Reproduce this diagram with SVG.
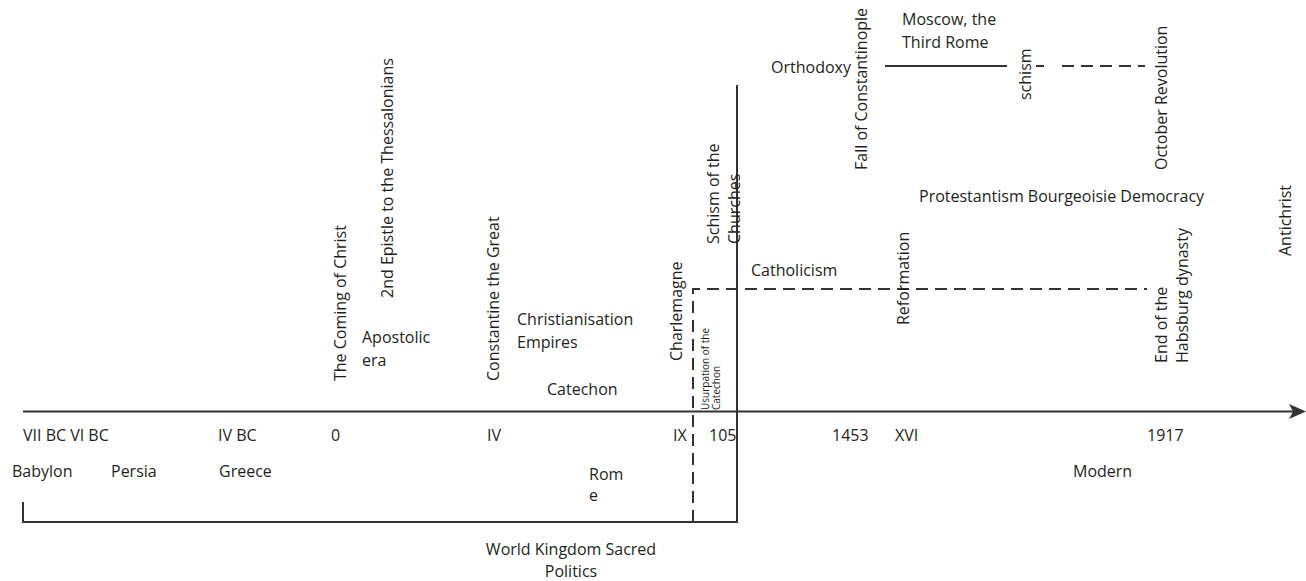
<svg xmlns="http://www.w3.org/2000/svg" width="1306" height="581" viewBox="0 0 1306 581">
  <style>
    text { font-family: "Open Sans", "Noto Sans", sans-serif; font-size: 16px; fill: #231f20; }
    .small { font-size: 10px; }
    .line { stroke: #333333; stroke-width: 2; fill: none; }
    .dash { stroke: #333333; stroke-width: 2; fill: none; stroke-dasharray: 12 7; }
  </style>
  <defs>
    <clipPath id="clip-left-of-schism">
      <rect x="0" y="400" width="737" height="60"/>
    </clipPath>
  </defs>

  <rect width="1306" height="581" fill="#ffffff"/>

  <!-- Connectors: time axis, kingdom bracket, schism line, branch lines -->
  <g id="connectors">
    <line class="line" x1="23" y1="411.5" x2="1296" y2="411.5"/>
    <path d="M1289,404 L1306,411.5 L1289,419 L1293,411.5 Z" fill="#333333"/>
    <polyline class="line" points="23,502 23,522 737,522 737,85"/>
    <polyline class="dash" points="693,522 693,289 1147,289"/>
    <line class="line" x1="885" y1="66" x2="1007" y2="66"/>
    <line class="line" x1="1036" y1="66" x2="1044" y2="66"/>
    <line class="dash" x1="1062" y1="66" x2="1145" y2="66"/>
  </g>

  <!-- Axis dates -->
  <g id="dates">
    <text x="23" y="441">VII BC VI BC</text>
    <text x="218" y="441">IV BC</text>
    <text x="331" y="441">0</text>
    <text x="487" y="441">IV</text>
    <text x="673" y="441">IX</text>
    <text x="709" y="441" clip-path="url(#clip-left-of-schism)">1054</text>
    <text x="832" y="441">1453</text>
    <text x="895" y="441">XVI</text>
    <text x="1147" y="441">1917</text>
  </g>

  <!-- Kingdoms -->
  <g id="kingdoms">
    <text x="12" y="477">Babylon</text>
    <text x="111" y="477">Persia</text>
    <text x="219" y="477">Greece</text>
    <text x="589" y="480">Rom</text>
    <text x="589" y="501">e</text>
    <text x="1073" y="477">Modern</text>
  </g>

  <g id="world-kingdom">
    <text x="571" y="555" text-anchor="middle">World Kingdom Sacred</text>
    <text x="571" y="577" text-anchor="middle">Politics</text>
  </g>

  <!-- Early Christian events -->
  <g id="coming-of-christ">
    <text transform="translate(346,381) rotate(-90)">The Coming of Christ</text>
  </g>
  <g id="epistle">
    <text transform="translate(393,298) rotate(-90)">2nd Epistle to the Thessalonians</text>
  </g>
  <g id="apostolic-era">
    <text x="362" y="343">Apostolic</text>
    <text x="362" y="366">era</text>
  </g>
  <g id="constantine">
    <text transform="translate(499,381) rotate(-90)">Constantine the Great</text>
  </g>
  <g id="christianisation">
    <text x="517" y="325">Christianisation</text>
    <text x="517" y="348">Empires</text>
  </g>
  <g id="catechon">
    <text x="547" y="395">Catechon</text>
  </g>
  <g id="charlemagne">
    <text transform="translate(682,361) rotate(-90)">Charlemagne</text>
  </g>
  <g id="usurpation">
    <text class="small" transform="translate(709,410) rotate(-90)">Usurpation of the</text>
    <text class="small" transform="translate(720,410) rotate(-90)">Catechon</text>
  </g>

  <!-- Schism and the two branches -->
  <g id="schism-of-churches">
    <text transform="translate(719,244) rotate(-90)">Schism of the</text>
    <text transform="translate(740,244) rotate(-90)">Churches</text>
  </g>
  <g id="catholicism">
    <text x="751" y="276">Catholicism</text>
  </g>
  <g id="orthodoxy">
    <text x="771" y="73">Orthodoxy</text>
  </g>
  <g id="fall-of-constantinople">
    <text transform="translate(867,170) rotate(-90)">Fall of Constantinople</text>
  </g>
  <g id="third-rome">
    <text x="902" y="25">Moscow, the</text>
    <text x="902" y="48">Third Rome</text>
  </g>
  <g id="schism">
    <text transform="translate(1031,100) rotate(-90)">schism</text>
  </g>
  <g id="october-revolution">
    <text transform="translate(1167,170) rotate(-90)">October Revolution</text>
  </g>
  <g id="protestantism">
    <text x="919" y="202">Protestantism Bourgeoisie Democracy</text>
  </g>
  <g id="reformation">
    <text transform="translate(909,325) rotate(-90)">Reformation</text>
  </g>
  <g id="end-of-habsburg">
    <text transform="translate(1167,363) rotate(-90)">End of the</text>
    <text transform="translate(1188,363) rotate(-90)">Habsburg dynasty</text>
  </g>
  <g id="antichrist">
    <text transform="translate(1291,256) rotate(-90)">Antichrist</text>
  </g>
</svg>
